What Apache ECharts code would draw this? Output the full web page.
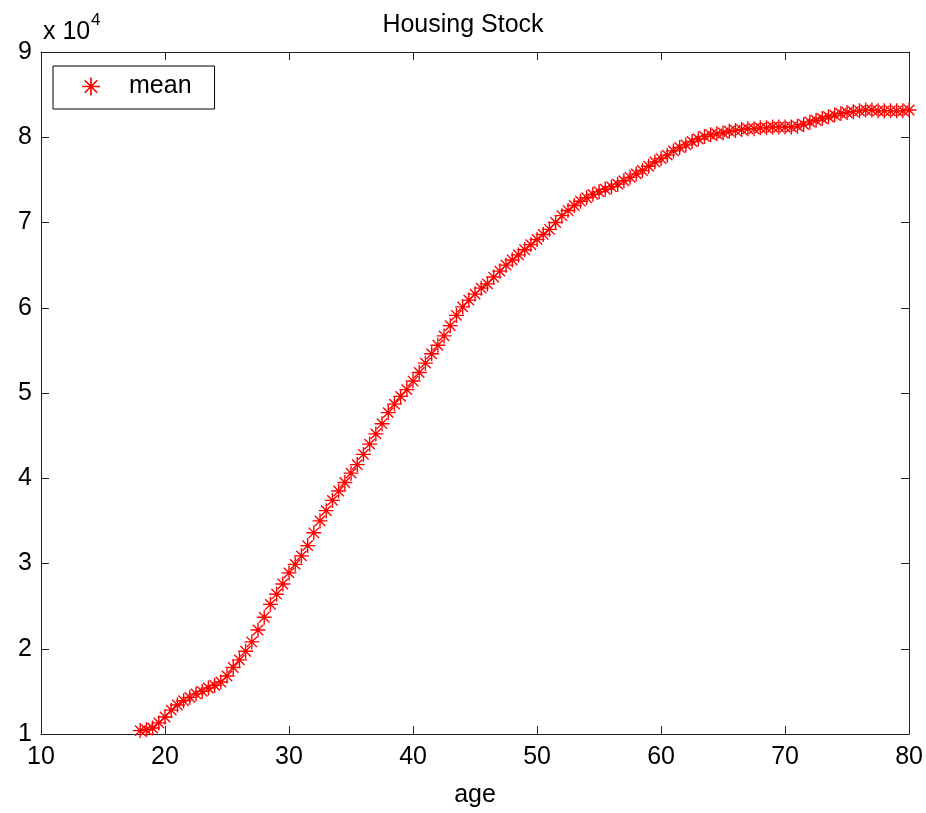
<!DOCTYPE html>
<html>
<head>
<meta charset="utf-8">
<script src="https://cdn.jsdelivr.net/npm/echarts@6/dist/echarts.min.js"></script>
<style>
html,body{margin:0;padding:0;background:#fff;}
#chart{width:926px;height:813px;}
</style>
</head>
<body>
<div id="chart"></div>
<script>
const titleText = 'Housing Stock';
const xName = 'age';
const seriesName = 'mean';
const xTicks = [10, 20, 30, 40, 50, 60, 70, 80];
const yTicks = [1, 2, 3, 4, 5, 6, 7, 8, 9];
const yScaleText = 'x 10';
const yScaleExp = '4';

const ages = [
  18.0, 18.5, 19.0, 19.5, 20.0, 20.5, 21.0, 21.5, 22.0, 22.5,
  23.0, 23.5, 24.0, 24.5, 25.0, 25.5, 26.0, 26.5, 27.0, 27.5,
  28.0, 28.5, 29.0, 29.5, 30.0, 30.5, 31.0, 31.5, 32.0, 32.5,
  33.0, 33.5, 34.0, 34.5, 35.0, 35.5, 36.0, 36.5, 37.0, 37.5,
  38.0, 38.5, 39.0, 39.5, 40.0, 40.5, 41.0, 41.5, 42.0, 42.5,
  43.0, 43.5, 44.0, 44.5, 45.0, 45.5, 46.0, 46.5, 47.0, 47.5,
  48.0, 48.5, 49.0, 49.5, 50.0, 50.5, 51.0, 51.5, 52.0, 52.5,
  53.0, 53.5, 54.0, 54.5, 55.0, 55.5, 56.0, 56.5, 57.0, 57.5,
  58.0, 58.5, 59.0, 59.5, 60.0, 60.5, 61.0, 61.5, 62.0, 62.5,
  63.0, 63.5, 64.0, 64.5, 65.0, 65.5, 66.0, 66.5, 67.0, 67.5,
  68.0, 68.5, 69.0, 69.5, 70.0, 70.5, 71.0, 71.5, 72.0, 72.5,
  73.0, 73.5, 74.0, 74.5, 75.0, 75.5, 76.0, 76.5, 77.0, 77.5,
  78.0, 78.5, 79.0, 79.5, 80.0
];

const meanStock = [
  10400, 10500, 10700, 11300, 12000, 12800, 13400, 13900, 14300, 14700,
  15000, 15400, 15700, 16100, 16800, 17800, 18700, 19700, 20800, 22200,
  23700, 25200, 26400, 27600, 28900, 29900, 30900, 32100, 33600, 35000,
  36200, 37400, 38500, 39500, 40600, 41600, 42800, 44000, 45200, 46400,
  47700, 48700, 49600, 50400, 51400, 52400, 53500, 54600, 55600, 56700,
  57900, 59100, 60100, 60900, 61600, 62300, 62800, 63600, 64300, 65000,
  65600, 66200, 66800, 67400, 68000, 68600, 69200, 70000, 70800, 71400,
  72000, 72500, 72900, 73300, 73600, 73900, 74200, 74500, 74900, 75300,
  75700, 76100, 76600, 77100, 77500, 77900, 78400, 78800, 79100, 79500,
  79800, 80100, 80300, 80400, 80500, 80700, 80800, 80900, 81000, 81000,
  81100, 81100, 81200, 81200, 81200, 81200, 81300, 81500, 81800, 82000,
  82200, 82400, 82600, 82800, 82900, 83000, 83100, 83200, 83200, 83100,
  83100, 83100, 83100, 83100, 83200
];

const FONT = '"Liberation Sans", Arial, sans-serif';
const AXIS_COLOR = '#222';
const asterisk = 'path://M0 11.8H26V14.2H0Z M11.8 0H14.2V26H11.8Z M4.85 3.15L22.85 21.15L21.15 22.85L3.15 4.85Z M22.85 4.85L4.85 22.85L3.15 21.15L21.15 3.15Z';

const data = ages.map((a, i) => [a, meanStock[i]]);

const chart = echarts.init(document.getElementById('chart'), null, {renderer: 'canvas'});

const axisLine = {show: true, lineStyle: {color: AXIS_COLOR, width: 1}};
const axisTick = {show: true, inside: true, length: 8, lineStyle: {color: AXIS_COLOR, width: 1}};

chart.setOption({
  animation: false,
  backgroundColor: '#fff',
  title: {
    text: titleText,
    left: 'center',
    top: 13,
    padding: 0,
    textStyle: {fontFamily: FONT, fontSize: 25, fontWeight: 'normal', color: '#000'}
  },
  legend: {
    left: 53,
    top: 66,
    orient: 'vertical',
    padding: [8, 23, 10, 29],
    itemWidth: 66,
    itemHeight: 18,
    itemGap: 0,
    borderColor: '#000',
    borderWidth: 1,
    backgroundColor: '#fff',
    textStyle: {fontFamily: FONT, fontSize: 25, color: '#000'},
    data: [{name: seriesName, icon: asterisk}]
  },
  grid: {left: 41, right: 16, top: 52, bottom: 76, containLabel: false},
  xAxis: [
    {
      type: 'value', min: xTicks[0], max: xTicks[xTicks.length - 1], interval: 10,
      position: 'bottom',
      name: xName, nameLocation: 'middle', nameGap: 49,
      nameTextStyle: {fontFamily: FONT, fontSize: 25, color: '#000'},
      axisLine: axisLine, axisTick: axisTick,
      axisLabel: {margin: 11, fontFamily: FONT, fontSize: 25, color: '#000'},
      splitLine: {show: false}
    },
    {
      type: 'value', min: xTicks[0], max: xTicks[xTicks.length - 1], interval: 10,
      position: 'top',
      axisLine: axisLine, axisTick: axisTick,
      axisLabel: {show: false},
      splitLine: {show: false}
    }
  ],
  yAxis: [
    {
      type: 'value', min: yTicks[0] * 10000, max: yTicks[yTicks.length - 1] * 10000, interval: 10000,
      position: 'left',
      axisLine: axisLine, axisTick: axisTick,
      axisLabel: {margin: 9, fontFamily: FONT, fontSize: 25, color: '#000',
        formatter: v => String(Math.round(v / 10000))},
      splitLine: {show: false}
    },
    {
      type: 'value', min: yTicks[0] * 10000, max: yTicks[yTicks.length - 1] * 10000, interval: 10000,
      position: 'right',
      axisLine: axisLine, axisTick: axisTick,
      axisLabel: {show: false},
      splitLine: {show: false}
    }
  ],
  graphic: [
    {type: 'text', left: 43, top: 20, style: {text: yScaleText, font: '25px ' + FONT, fill: '#000'}},
    {type: 'text', left: 91, top: 12, style: {text: yScaleExp, font: '17px ' + FONT, fill: '#000'}}
  ],
  series: [
    {
      name: seriesName,
      type: 'scatter',
      xAxisIndex: 0,
      yAxisIndex: 0,
      symbol: asterisk,
      symbolSize: 15,
      itemStyle: {color: '#ff0000', opacity: 1},
      emphasis: {disabled: true},
      data: data
    }
  ]
});
</script>
</body>
</html>
